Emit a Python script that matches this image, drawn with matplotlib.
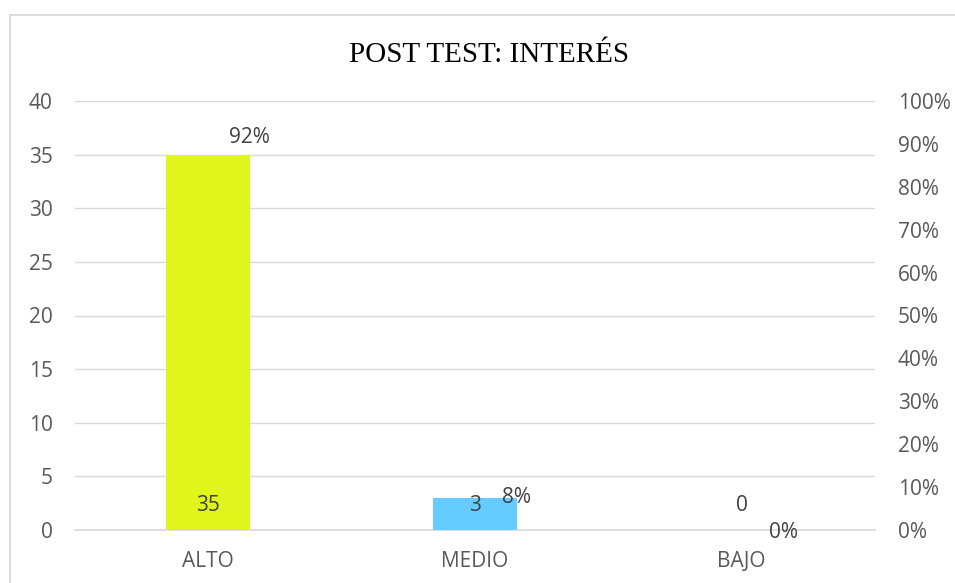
import matplotlib
matplotlib.use("Agg")
import matplotlib.pyplot as plt
from matplotlib.patches import Rectangle
from matplotlib.ticker import PercentFormatter, MultipleLocator

categories = ["ALTO", "MEDIO", "BAJO"]
counts = [35, 3, 0]
percents = [0.92, 0.08, 0.0]
pct_labels = ["92%", "8%", "0%"]
bar_colors = ["#E0F51C", "#66CCFF", "#A9D18E"]

grey_text = "#595959"
grid_col = "#D9D9D9"
sans = "Open Sans"
fs = 15

fig = plt.figure(figsize=(9.55, 5.83), dpi=100)
fig.patch.set_facecolor("white")
fig.patches.append(Rectangle((10 / 955, -0.2), 2.0, 1.2 - 15 / 583, transform=fig.transFigure,
                             fill=False, edgecolor="#D9D9D9", linewidth=1.3))

ax = fig.add_axes([75 / 955, 1 - 530 / 583, 800 / 955, 429 / 583])
x = list(range(len(categories)))
ax.bar(x, counts, width=0.315, color=bar_colors, zorder=3)
ax.set_xlim(-0.5, 2.5)
ax.set_ylim(0, 40)
ax.yaxis.set_major_locator(MultipleLocator(5))
ax.grid(axis="y", color=grid_col, linewidth=1, zorder=0)
for s in ["top", "left", "right"]:
    ax.spines[s].set_visible(False)
ax.spines["bottom"].set_color(grid_col)
ax.spines["bottom"].set_linewidth(1.2)
ax.set_xticks(x)
ax.set_xticklabels(categories)
ax.tick_params(axis="both", length=0, colors=grey_text, labelsize=fs)
ax.tick_params(axis="x", pad=15)
ax.tick_params(axis="y", pad=16)
for lab in ax.get_xticklabels() + ax.get_yticklabels():
    lab.set_fontfamily(sans)

for i, c in enumerate(counts):
    ax.text(i, 2.33, str(c), ha="center", va="center", fontsize=fs,
            color="#404040", family=sans, zorder=5)

ax2 = ax.twinx()
ax2.set_ylim(0, 1)
ax2.yaxis.set_major_locator(MultipleLocator(0.1))
ax2.yaxis.set_major_formatter(PercentFormatter(1.0, decimals=0))
for s in ["top", "left", "right", "bottom"]:
    ax2.spines[s].set_visible(False)
ax2.tick_params(axis="y", length=0, colors=grey_text, labelsize=fs, pad=16.5)
for lab in ax2.get_yticklabels():
    lab.set_fontfamily(sans)
for i, (p, t) in enumerate(zip(percents, pct_labels)):
    ax2.text(i + 0.155, p - 0.005, t, ha="center", va="center", fontsize=fs,
             color="#404040", family=sans, zorder=5)

fig.text(489 / 955, 1 - 55 / 583, "POST TEST: INTERÉS", ha="center", va="center",
         fontsize=21, family="Liberation Serif", color="black")

fig.savefig("out.png", dpi=100)
